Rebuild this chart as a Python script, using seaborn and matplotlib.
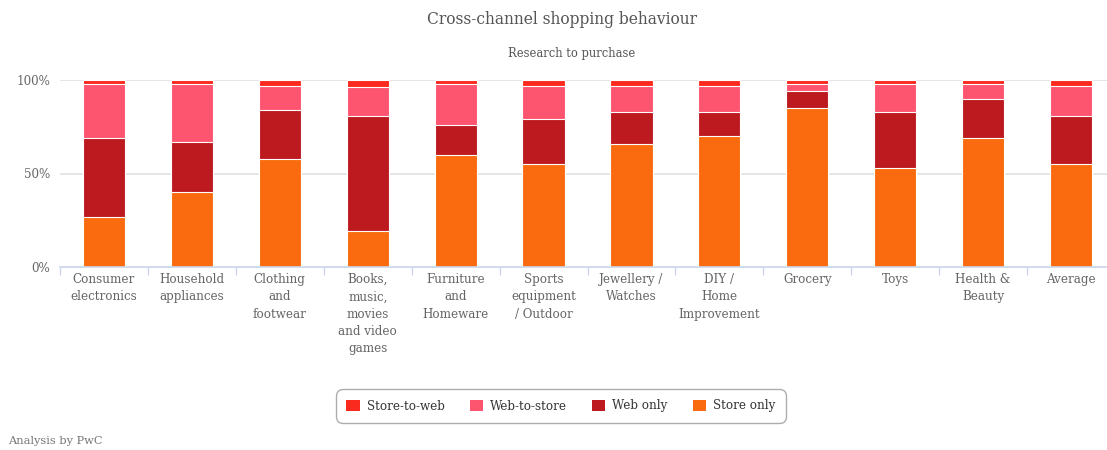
import numpy as np
import pandas as pd
import matplotlib
matplotlib.use("Agg")
import matplotlib.pyplot as plt
import seaborn as sns
from matplotlib.patches import Patch

# Share of shoppers (%) by research-to-purchase path, per product category
categories = [
    "Consumer\nelectronics",
    "Household\nappliances",
    "Clothing\nand\nfootwear",
    "Books,\nmusic,\nmovies\nand video\ngames",
    "Furniture\nand\nHomeware",
    "Sports\nequipment\n/ Outdoor",
    "Jewellery /\nWatches",
    "DIY /\nHome\nImprovement",
    "Grocery",
    "Toys",
    "Health &\nBeauty",
    "Average",
]
store_only = [27, 40, 58, 19, 60, 55, 66, 70, 85, 53, 69, 55]
web_only = [42, 27, 26, 62, 16, 24, 17, 13, 9, 30, 21, 26]
web_to_store = [29, 31, 13, 15, 22, 18, 14, 14, 4, 15, 8, 16]
store_to_web = [2, 2, 3, 4, 2, 3, 3, 3, 2, 2, 2, 3]

series = ["Store-to-web", "Web-to-store", "Web only", "Store only"]
palette = {
    "Store-to-web": "#fb2a1e",
    "Web-to-store": "#fd546f",
    "Web only": "#bd1a20",
    "Store only": "#f96b0e",
}

df = pd.DataFrame({
    "category": categories,
    "Store only": store_only,
    "Web only": web_only,
    "Web-to-store": web_to_store,
    "Store-to-web": store_to_web,
})
# Stack tops: each layer is drawn from zero up to its cumulative height
df["top_store_only"] = df["Store only"]
df["top_web_only"] = df["top_store_only"] + df["Web only"]
df["top_web_to_store"] = df["top_web_only"] + df["Web-to-store"]
df["top_store_to_web"] = df["top_web_to_store"] + df["Store-to-web"]

sns.set_theme(style="white")
plt.rcParams["font.family"] = ["DejaVu Serif"]

W, H = 1107, 450
fig = plt.figure(figsize=(W / 100, H / 100), dpi=100)
ax = fig.add_axes([60 / W, (H - 267) / H, (1115 - 60) / W, 187 / H])

layers = [
    ("top_store_to_web", "Store-to-web"),
    ("top_web_to_store", "Web-to-store"),
    ("top_web_only", "Web only"),
    ("top_store_only", "Store only"),
]
for col, name in layers:
    sns.barplot(
        data=df, x="category", y=col, color=palette[name], saturation=1,
        width=0.48, edgecolor="white", linewidth=0.8, errorbar=None, ax=ax,
        zorder=3,
    )

ax.set_xlim(-0.5, len(categories) - 0.5)
ax.set_ylim(0, 100)
ax.set_xlabel("")
ax.set_ylabel("")

ax.set_yticks([0, 50, 100])
ax.set_yticklabels(["0%", "50%", "100%"])
ax.yaxis.grid(True, color="#e0e0e0", linewidth=1.2, zorder=0)
ax.set_axisbelow(True)
ax.tick_params(axis="y", length=0, pad=7, labelsize=8.6, labelcolor="#666666")

ax.set_xticks(np.arange(-0.5, len(categories), 1), minor=True)
ax.tick_params(axis="x", which="major", length=0, pad=4.5, labelsize=8.6,
               labelcolor="#666666")
ax.tick_params(axis="x", which="minor", length=6, width=1, color="#ccd6eb",
               bottom=True)
for lbl in ax.get_xticklabels():
    lbl.set_linespacing(1.42)
    lbl.set_horizontalalignment("center")

for side in ["top", "left", "right"]:
    ax.spines[side].set_visible(False)
ax.spines["bottom"].set_color("#ccd6eb")
ax.spines["bottom"].set_linewidth(1.2)
ax.spines["bottom"].set_zorder(4)

fig.text(562 / W, 1 - 20 / H, "Cross-channel shopping behaviour",
         ha="center", va="center", fontsize=11.2, color="#555555")
fig.text(572 / W, 1 - 53 / H, "Research to purchase",
         ha="center", va="center", fontsize=8.3, color="#555555")
fig.text(8 / W, 1 - 441 / H, "Analysis by PwC",
         ha="left", va="center", fontsize=8.2, color="#777777")

handles = [Patch(facecolor=palette[s], edgecolor="none", label=s) for s in series]
leg = fig.legend(
    handles=handles, loc="center", bbox_to_anchor=(561 / W, 1 - 406 / H),
    ncol=4, frameon=True, fancybox=True, fontsize=8.6,
    handlelength=1.1, handleheight=1.1, handletextpad=0.6, columnspacing=2.1,
    borderpad=0.7,
)
leg.get_frame().set_edgecolor("#999999")
leg.get_frame().set_linewidth(1)
leg.get_frame().set_boxstyle("round,pad=0.2,rounding_size=0.6")
for t in leg.get_texts():
    t.set_color("#333333")

fig.savefig("out.png", dpi=100, facecolor="white")
